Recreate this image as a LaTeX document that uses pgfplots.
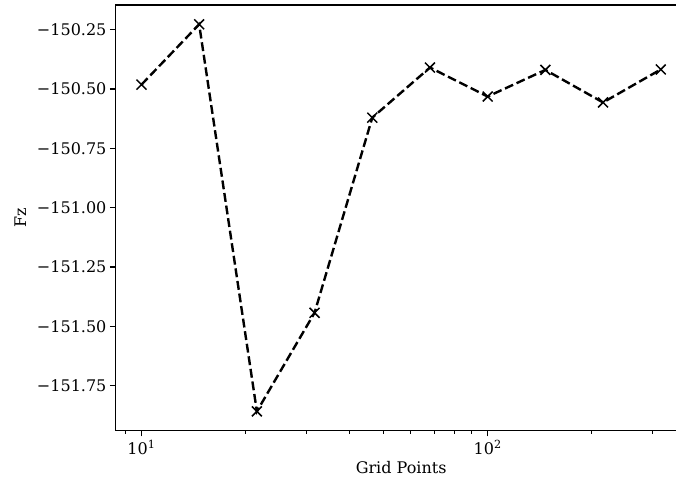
\documentclass[border=0pt]{standalone}
\usepackage{fontspec}
\setmainfont{DejaVu Serif}
\usepackage{pgfplots}
\pgfplotsset{compat=1.18}
\begin{document}
\begin{tikzpicture}[x=1bp,y=1bp]
\begin{axis}[
  at={(115.5bp,49.3bp)}, anchor=south west,
  scale only axis, width=571.2bp, height=425.7bp,
  xmode=log, xmin=8.414, xmax=375.8,
  ymin=-151.9395, ymax=-150.1465,
  xtick={10,100}, xticklabels={10\textsuperscript{1},10\textsuperscript{2}},
  minor xtick={9,20,30,40,50,60,70,80,90,200,300},
  ytick={-151.75,-151.5,-151.25,-151,-150.75,-150.5,-150.25},
  yticklabels={−151.75,−151.50,−151.25,−151.00,−150.75,−150.50,−150.25},
  tick align=outside, xtick pos=left, ytick pos=left,
  major tick length=5.6bp, minor tick length=3.2bp,
  every major tick/.style={black, line width=1.28bp},
  every minor tick/.style={black, line width=1bp},
  axis line style={black, line width=1.28bp},
  font=\fontsize{16bp}{19bp}\selectfont,
  tick label style={font=\fontsize{16bp}{19bp}\selectfont},
  xlabel={Grid Points}, ylabel={Fz},
  ylabel shift=4bp,
]
\addplot[black, line width=2.4bp, dash pattern=on 8.9bp off 3.8bp, mark=x, mark size=7bp, mark options={solid, line width=1.5bp}] coordinates {
(10,-150.482) (14.678,-150.228) (21.544,-151.858) (31.623,-151.443) (46.416,-150.621)
(68.129,-150.410) (100,-150.532) (146.780,-150.420) (215.443,-150.557) (316.228,-150.418)
};
\end{axis}
\pgfresetboundingbox
\path[use as bounding box] (0,0) rectangle (676,480);
\end{tikzpicture}
\end{document}
